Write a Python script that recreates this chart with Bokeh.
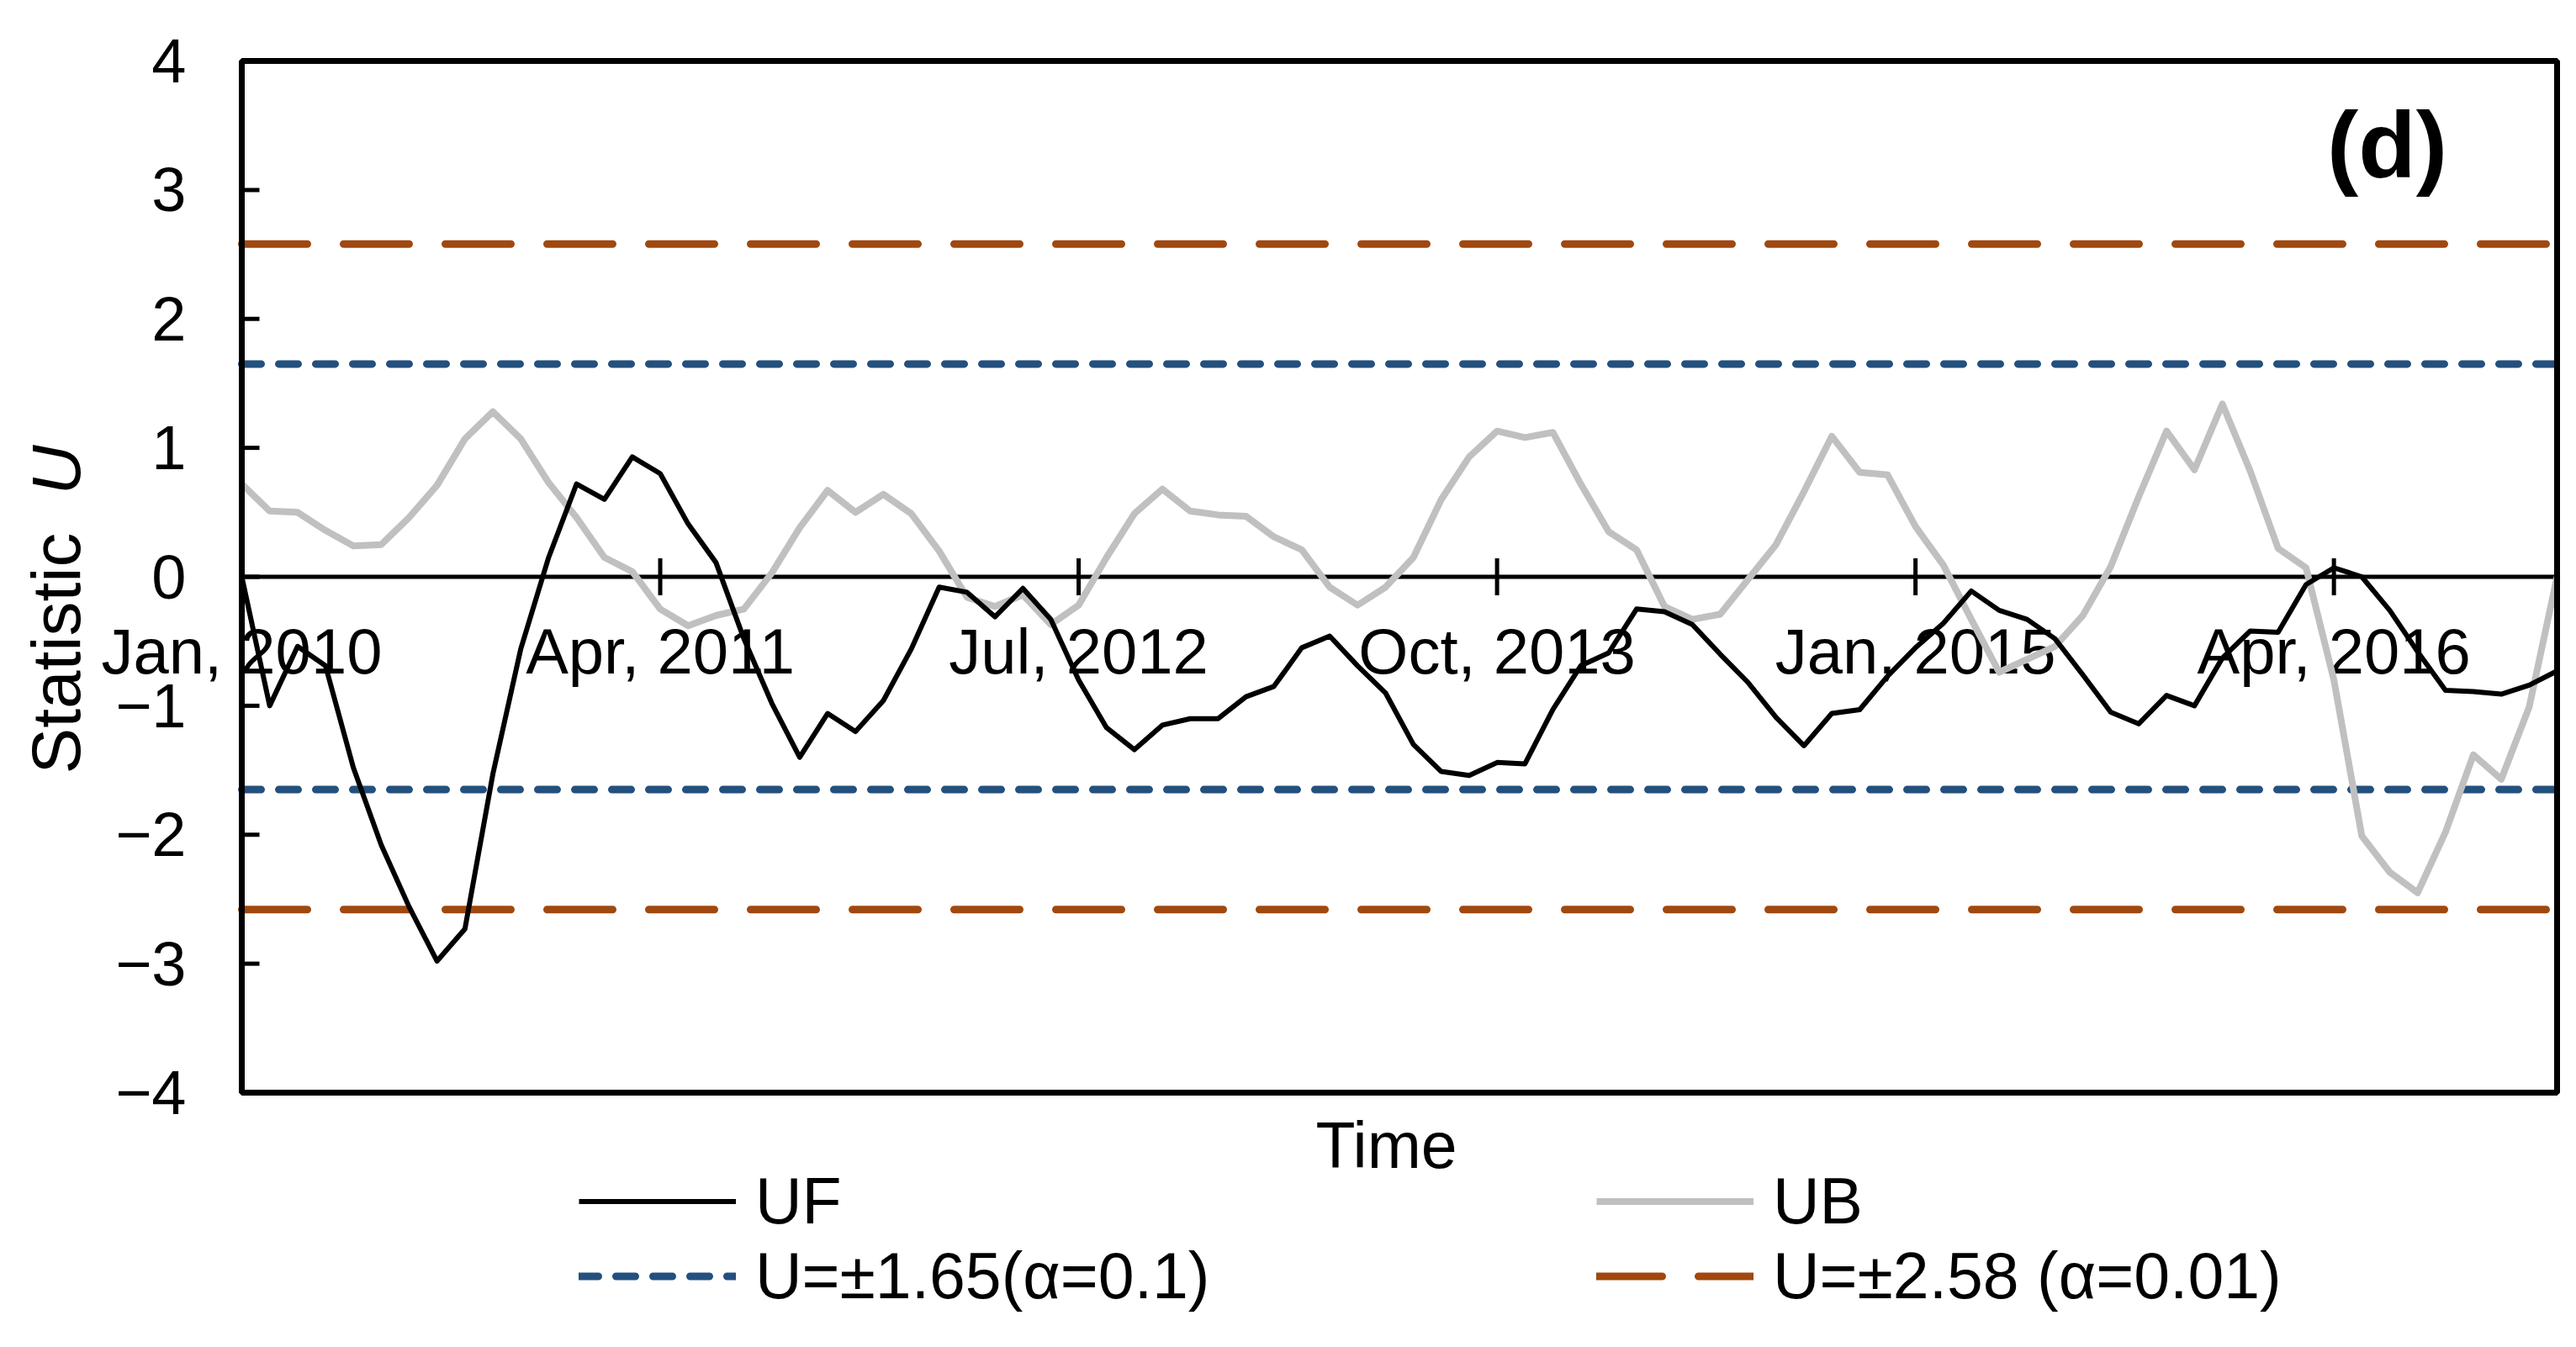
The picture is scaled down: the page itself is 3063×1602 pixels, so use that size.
import math
from bokeh.plotting import figure
from bokeh.models import Range1d, Legend, LegendItem, Label
from bokeh.embed import file_html
from bokeh.resources import INLINE

# ---------------- data ----------------
months = list(range(84))  # Jan 2010 .. Dec 2016, monthly index

uf = [0.00, -1.00, -0.54, -0.69, -1.48, -2.08, -2.56, -2.98, -2.73, -1.53,
      -0.56, 0.15, 0.72, 0.60, 0.93, 0.80, 0.41, 0.11, -0.48, -0.98,
      -1.40, -1.06, -1.20, -0.96, -0.56, -0.08, -0.12, -0.31, -0.09, -0.33,
      -0.80, -1.17, -1.34, -1.15, -1.10, -1.10, -0.93, -0.85, -0.55, -0.46,
      -0.69, -0.90, -1.30, -1.51, -1.54, -1.44, -1.45, -1.03, -0.69, -0.59,
      -0.25, -0.27, -0.37, -0.60, -0.82, -1.09, -1.31, -1.06, -1.03, -0.77,
      -0.55, -0.36, -0.11, -0.26, -0.33, -0.48, -0.76, -1.05, -1.14, -0.92,
      -1.00, -0.63, -0.42, -0.43, -0.06, 0.07, 0.00, -0.26, -0.58, -0.88,
      -0.89, -0.91, -0.84, -0.73]

ub = [0.72, 0.51, 0.50, 0.36, 0.24, 0.25, 0.46, 0.71, 1.07, 1.28,
      1.07, 0.73, 0.46, 0.15, 0.04, -0.25, -0.38, -0.30, -0.25, 0.03,
      0.38, 0.67, 0.50, 0.64, 0.49, 0.20, -0.16, -0.23, -0.14, -0.37,
      -0.22, 0.15, 0.49, 0.68, 0.51, 0.48, 0.47, 0.31, 0.21, -0.08,
      -0.22, -0.08, 0.15, 0.60, 0.93, 1.13, 1.08, 1.12, 0.72, 0.35,
      0.21, -0.23, -0.33, -0.29, -0.02, 0.25, 0.66, 1.09, 0.81, 0.79,
      0.39, 0.09, -0.33, -0.74, -0.64, -0.54, -0.30, 0.08, 0.62, 1.13,
      0.83, 1.34, 0.82, 0.22, 0.07, -0.80, -2.01, -2.29, -2.45, -1.98,
      -1.38, -1.57, -1.01, 0.00]

u_90 = 1.65
u_99 = 2.58

x_tick_positions = [0, 15, 30, 45, 60, 75]
x_tick_labels = ["Jan, 2010", "Apr, 2011", "Jul, 2012", "Oct, 2013", "Jan, 2015", "Apr, 2016"]
y_ticks = [-4, -3, -2, -1, 0, 1, 2, 3, 4]
y_tick_labels = ["\u22124", "\u22123", "\u22122", "\u22121", "0", "1", "2", "3", "4"]
legend_labels = ["UF", "UB", "U=\u00b11.65(\u03b1=0.1)", "U=\u00b12.58 (\u03b1=0.01)"]

# ---------------- layout / style ----------------
W, H = 3063, 1602
BOX_L, BOX_R, BOX_T, BOX_B = 287, 3040, 72, 1299   # pixel position of the plot box
FONT = "Liberation Sans"
BLUE = "#24507E"
BROWN = "#A0480F"
GRAY = "#C0C0C0"

# the frame covers the whole canvas; ranges are chosen so that the data box sits at BOX_*
xpp = (months[-1] - months[0]) / (BOX_R - BOX_L)
ypp = (y_ticks[-1] - y_ticks[0]) / (BOX_B - BOX_T)
x_range = Range1d(months[0] - BOX_L * xpp, months[-1] + (W - BOX_R) * xpp)
y_range = Range1d(y_ticks[0] - (H - BOX_B) * ypp, y_ticks[-1] + BOX_T * ypp)

p = figure(width=W, height=H, output_backend="svg", toolbar_location=None,
           x_range=x_range, y_range=y_range,
           x_axis_location=None, y_axis_location=None,
           min_border=0, min_border_left=0, min_border_right=0,
           min_border_top=0, min_border_bottom=0)
p.xgrid.visible = False
p.ygrid.visible = False
p.outline_line_color = None
p.background_fill_color = "white"
p.border_fill_color = "white"

xs = [months[0], months[-1]]
r_b1 = p.line(xs, [u_90, u_90], line_color=BLUE, line_width=9, line_dash="23 21", line_cap="round")
r_b2 = p.line(xs, [-u_90, -u_90], line_color=BLUE, line_width=9, line_dash="23 21", line_cap="round")
r_o1 = p.line(xs, [u_99, u_99], line_color=BROWN, line_width=9, line_dash="78 43", line_cap="round")
r_o2 = p.line(xs, [-u_99, -u_99], line_color=BROWN, line_width=9, line_dash="78 43", line_cap="round")

# zero axis with crossing ticks
p.line(xs, [0, 0], line_color="black", line_width=5)
p.ray(x=x_tick_positions, y=[0] * len(x_tick_positions), length=22, length_units="screen",
      angle=math.pi / 2, line_color="black", line_width=5)
p.ray(x=x_tick_positions, y=[0] * len(x_tick_positions), length=22, length_units="screen",
      angle=-math.pi / 2, line_color="black", line_width=5)
p.text(x=x_tick_positions, y=[0] * len(x_tick_positions), text=x_tick_labels,
       y_offset=88, text_align="center", text_baseline="alphabetic",
       text_font={"value": FONT}, text_font_size={"value": "76px"}, text_color="black")

r_ub = p.line(months, ub, line_color=GRAY, line_width=8, line_join="round")
r_uf = p.line(months, uf, line_color="black", line_width=6, line_join="round")

# y axis: inward ticks and labels
p.ray(x=[months[0]] * len(y_ticks), y=y_ticks, length=21, length_units="screen",
      angle=0, line_color="black", line_width=5)
p.text(x=[months[0]] * len(y_ticks), y=y_ticks, text=y_tick_labels,
       x_offset=-66, text_align="right", text_baseline="middle",
       text_font={"value": FONT}, text_font_size={"value": "74px"}, text_color="black")

# plot box
p.quad(left=months[0], right=months[-1], bottom=y_ticks[0], top=y_ticks[-1],
       fill_color=None, line_color="black", line_width=7)

# axis titles and panel tag (screen units = canvas pixels from bottom-left)
p.add_layout(Label(x=66, y=H - 920, x_units="screen", y_units="screen", text="Statistic",
                   angle=math.pi / 2, text_align="left", text_baseline="middle",
                   text_font=FONT, text_font_size="82px", text_color="black"))
p.add_layout(Label(x=66, y=H - 588, x_units="screen", y_units="screen", text="U",
                   angle=math.pi / 2, text_align="left", text_baseline="middle",
                   text_font=FONT, text_font_size="82px", text_font_style="italic", text_color="black"))
p.add_layout(Label(x=1648, y=H - 1361, x_units="screen", y_units="screen", text="Time",
                   text_align="center", text_baseline="middle",
                   text_font=FONT, text_font_size="77px", text_color="black"))
p.add_layout(Label(x=2838, y=H - 172, x_units="screen", y_units="screen", text="(d)",
                   text_align="center", text_baseline="middle",
                   text_font=FONT, text_font_size="112px", text_font_style="bold", text_color="black"))

legend = Legend(items=[
    LegendItem(label=legend_labels[0], renderers=[r_uf]),
    LegendItem(label=legend_labels[1], renderers=[r_ub]),
    LegendItem(label=legend_labels[2], renderers=[r_b1]),
    LegendItem(label=legend_labels[3], renderers=[r_o1]),
], location=(688, H - 1562), orientation="horizontal", ncols=2)
legend.label_text_font = FONT
legend.label_text_font_size = "77px"
legend.label_text_color = "black"
legend.label_text_baseline = "middle"
legend.glyph_width = 187
legend.glyph_height = 85
legend.label_height = 85
legend.label_width = 1000
legend.label_standoff = 23
legend.spacing = 0
legend.padding = 0
legend.margin = 0
legend.border_line_color = None
legend.background_fill_alpha = 0
p.add_layout(legend)

open("out.html", "w").write(file_html(p, INLINE))
